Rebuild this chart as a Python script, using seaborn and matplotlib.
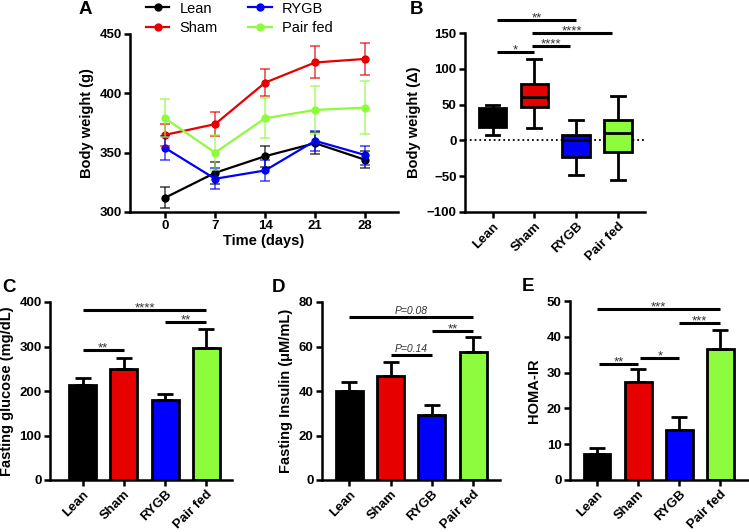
import numpy as np
import pandas as pd
import matplotlib
matplotlib.use('Agg')
import matplotlib.pyplot as plt
import seaborn as sns

# Data
groups = ['Lean', 'Sham', 'RYGB', 'Pair fed']
colors = ['#000000', '#e60000', '#0000ff', '#8cfc3c']

# A: body weight over time (mean, SEM)
days = [0, 7, 14, 21, 28]
bw_mean = {
    'Lean': [312, 333, 347, 358, 344],
    'Sham': [365, 374, 409, 426, 429],
    'RYGB': [354, 328, 335, 360, 348],
    'Pair fed': [379, 350, 379, 386, 388],
}
bw_sem = {
    'Lean': [9, 9.5, 9, 9, 7],
    'Sham': [9.5, 10, 11.5, 13.5, 13.5],
    'RYGB': [10, 9, 9, 8.5, 8],
    'Pair fed': [16, 15, 17, 20.5, 22.5],
}

# B: change in body weight, box stats (min, q1, median, q3, max)
delta_box = {
    'Lean': [8, 19, 30, 45, 50],
    'Sham': [17, 46, 60, 79, 114],
    'RYGB': [-49, -23, 0, 7, 28],
    'Pair fed': [-55, -16, 11, 29, 62],
}

# C, D, E: mean and SEM
glucose = [214, 249, 179, 297]
glucose_sem = [16, 26, 15, 43]
insulin = [39.8, 46.6, 29.2, 57.4]
insulin_sem = [4.2, 6.6, 4.6, 6.7]
homa = [7.4, 27.5, 13.9, 36.7]
homa_sem = [1.6, 3.4, 3.6, 5.2]

plt.rcParams['font.family'] = ['Liberation Sans', 'DejaVu Sans']
plt.rcParams['font.weight'] = 'bold'
plt.rcParams['axes.labelweight'] = 'bold'

W, H = 749, 532
fig = plt.figure(figsize=(W / 100, H / 100), dpi=100)

TICK = 9.5
LABEL = 10.5


def axes_px(left, right, top, bottom):
    return fig.add_axes([left / W, 1 - bottom / H, (right - left) / W, (bottom - top) / H])


def style_axes(ax):
    sns.despine(ax=ax)
    for s in ['left', 'bottom']:
        ax.spines[s].set_linewidth(1.8)
    ax.tick_params(width=1.8, length=4, labelsize=TICK, pad=2)
    for lab in ax.get_xticklabels() + ax.get_yticklabels():
        lab.set_fontweight('bold')


def sig(ax, x1, x2, y, text, italic=False):
    ax.plot([x1, x2], [y, y], color='black', lw=2.2, clip_on=False, solid_capstyle='butt')
    if italic:
        ax.text((x1 + x2) / 2, y + (ax.get_ylim()[1] - ax.get_ylim()[0]) * 0.005, text,
                ha='center', va='bottom', fontsize=7.5, style='italic',
                fontweight='normal', color='#333333')
    else:
        ax.text((x1 + x2) / 2, y - (ax.get_ylim()[1] - ax.get_ylim()[0]) * 0.025, text,
                ha='center', va='bottom', fontsize=9.5, fontweight='normal', color='#333333')


def cat_axis(ax):
    ax.set_xticks(range(4))
    ax.set_xticklabels(groups, rotation=45, ha='right', rotation_mode='anchor')
    ax.set_xlabel('')


# Panel A
axA = axes_px(130, 398, 34, 212)
rows = []
for g in groups:
    for d, m in zip(days, bw_mean[g]):
        rows.append({'day': d, 'weight': m, 'group': g})
dfA = pd.DataFrame(rows)
sns.lineplot(data=dfA, x='day', y='weight', hue='group', hue_order=groups,
             palette=colors, marker='o', markersize=6, markeredgewidth=0,
             linewidth=1.6, ax=axA)
for g, c in zip(groups, colors):
    axA.errorbar(days, bw_mean[g], yerr=bw_sem[g], fmt='none', ecolor=c,
                 elinewidth=1.1, capsize=3.5, capthick=1.1, alpha=0.75)
axA.set_xlim(-4.9, 32.6)
axA.set_ylim(300, 450)
axA.set_xticks(days)
axA.set_yticks([300, 350, 400, 450])
axA.set_xlabel('Time (days)', fontsize=LABEL, labelpad=1)
axA.set_ylabel('Body weight (g)', fontsize=LABEL)
style_axes(axA)
handles, labels = axA.get_legend_handles_labels()
axA.legend(handles, labels, ncol=2, frameon=False, loc='upper left',
           bbox_to_anchor=(146 / W, 0.997), bbox_transform=fig.transFigure,
           borderpad=0, borderaxespad=0, handlelength=1.6,
           handletextpad=0.7, columnspacing=2.1, labelspacing=0.4,
           prop={'weight': 'normal', 'size': 10.5})

# Panel B
axB = axes_px(465, 645, 33, 212)
rows = []
for g in groups:
    for v in delta_box[g]:
        rows.append({'group': g, 'delta': v})
dfB = pd.DataFrame(rows)
sns.boxplot(data=dfB, x='group', y='delta', hue='group', order=groups, hue_order=groups,
            palette=colors, linecolor='black', linewidth=2, width=0.66,
            whis=(0, 100), saturation=1, legend=False, ax=axB)
axB.axhline(0, color='black', ls=':', lw=1.3, zorder=0)
axB.set_xlim(-0.66, 3.65)
axB.set_ylim(-100, 150)
axB.set_yticks([-100, -50, 0, 50, 100, 150])
axB.set_ylabel('Body weight (\u0394)', fontsize=LABEL)
cat_axis(axB)
style_axes(axB)
sig(axB, 0.1, 2.0, 167.6, '**')
sig(axB, 0.95, 2.85, 150, '****')
sig(axB, 0.95, 1.85, 131.3, '****')
sig(axB, 0.1, 1.0, 123.4, '*')

# Bar panels
def bar_panel(ax, vals, errs, ylim, yticks, ylabel):
    sns.barplot(x=groups, y=vals, hue=groups, palette=colors, edgecolor='black',
                linewidth=2, width=0.65, errorbar=None, saturation=1,
                legend=False, ax=ax)
    ax.errorbar(range(4), vals, yerr=[[0] * 4, errs], fmt='none', ecolor='black',
                elinewidth=2, capsize=5.5, capthick=2, zorder=1)
    ax.set_ylim(*ylim)
    ax.set_yticks(yticks)
    ax.set_ylabel(ylabel, fontsize=LABEL)
    cat_axis(ax)
    style_axes(ax)


axC = axes_px(50, 232, 302, 480)
bar_panel(axC, glucose, glucose_sem, (0, 400), [0, 100, 200, 300, 400],
          'Fasting glucose (mg/dL)')
axC.set_xlim(-0.79, 3.62)
sig(axC, 0, 3, 382.8, '****')
sig(axC, 2, 3, 354.3, '**')
sig(axC, 0, 1, 292, '**')

axD = axes_px(322, 500, 302, 480)
bar_panel(axD, insulin, insulin_sem, (0, 80), [0, 20, 40, 60, 80],
          'Fasting Insulin (\u03bcM/mL)')
axD.set_xlim(-0.66, 3.65)
sig(axD, 0, 3, 73.4, 'P=0.08', italic=True)
sig(axD, 2, 3, 67, '**')
sig(axD, 1, 2, 56.2, 'P=0.14', italic=True)

axE = axes_px(570, 748, 301, 480)
bar_panel(axE, homa, homa_sem, (0, 50), [0, 10, 20, 30, 40, 50], 'HOMA-IR')
axE.set_xlim(-0.66, 3.67)
sig(axE, 0, 3, 47.9, '***')
sig(axE, 2, 3, 43.8, '***')
sig(axE, 0.05, 1, 32.4, '**')
sig(axE, 1.05, 2, 34.1, '*')

# Panel letters
for letter, x, y in [('A', 79, 1), ('B', 410, 1), ('C', 2, 279), ('D', 272, 279), ('E', 522, 278)]:
    fig.text(x / W, 1 - y / H, letter, fontsize=13.5, fontweight='bold', va='top', ha='left')

fig.savefig('out.png', dpi=100)
